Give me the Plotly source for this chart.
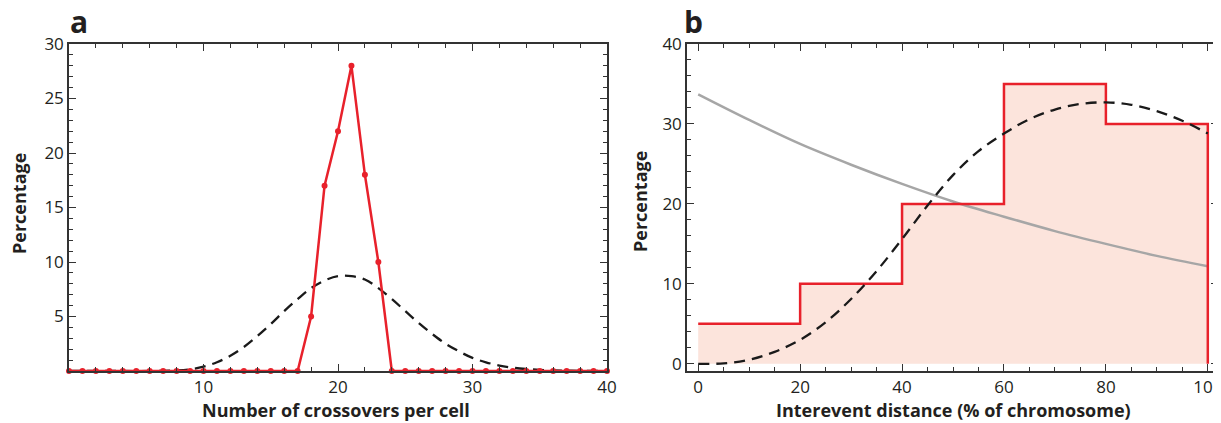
import plotly.graph_objects as go

# ---------- Panel a data ----------
crossovers = list(range(0, 41))
observed_pct = [0]*18 + [5, 17, 22, 28, 18, 10] + [0]*17
expected_x = [0, 2, 4, 6, 8, 9, 10, 11, 12, 13, 14, 15, 16, 17, 18, 19, 20, 21, 22, 23,
              24, 25, 26, 27, 28, 29, 30, 31, 32, 33, 34, 35, 36, 38, 40]
expected_pct = [0, 0, 0, 0, 0.05, 0.15, 0.4, 0.8, 1.4, 2.2, 3.2, 4.3, 5.5, 6.6, 7.6, 8.3, 8.7,
                8.7, 8.4, 7.6, 6.6, 5.5, 4.4, 3.4, 2.5, 1.8, 1.2, 0.8, 0.5, 0.3, 0.18, 0.1,
                0.05, 0.02, 0]

# ---------- Panel b data ----------
bin_edges = [0, 20, 40, 60, 80, 100]
bin_pct = [5, 10, 20, 35, 30]
gray_x = [0, 10, 20, 30, 40, 50, 60, 70, 80, 90, 100]
gray_pct = [33.7, 30.5, 27.5, 24.9, 22.5, 20.3, 18.4, 16.6, 15.0, 13.5, 12.2]
dash_x = [0, 5, 10, 15, 20, 25, 30, 35, 40, 45, 50, 55, 60, 65, 70, 75, 80, 85, 90, 95, 100]
dash_pct = [0, 0.05, 0.5, 1.5, 3.0, 5.2, 8.1, 11.6, 15.6, 19.8, 23.6, 26.6, 28.8, 30.6,
            31.8, 32.5, 32.7, 32.4, 31.6, 30.4, 28.8]

RED = "#e8212b"
FONT = "Open Sans"
TXT = "#231f20"

# step outline from the bins
step_x, step_y = [], []
for i, v in enumerate(bin_pct):
    step_x += [bin_edges[i], bin_edges[i + 1]]
    step_y += [v, v]
fill_x = [bin_edges[0]] + step_x + [bin_edges[-1]]
fill_y = [0] + step_y + [0]
outline_x = step_x + [bin_edges[-1]]
outline_y = step_y + [0]

fig = go.Figure()

# Panel a
fig.add_trace(go.Scatter(x=expected_x, y=expected_pct, mode="lines", line_shape="spline",
                         line=dict(color="#1a1a1a", width=2.3, dash="11px,7px"),
                         xaxis="x", yaxis="y", showlegend=False))
fig.add_trace(go.Scatter(x=crossovers, y=observed_pct, mode="lines+markers",
                         line=dict(color=RED, width=2.5),
                         marker=dict(color=RED, size=6), cliponaxis=False,
                         xaxis="x", yaxis="y", showlegend=False))

# Panel b
fig.add_trace(go.Scatter(x=fill_x, y=fill_y, mode="lines", fill="toself",
                         fillcolor="#fce4dc", line=dict(width=0),
                         xaxis="x2", yaxis="y2", showlegend=False))
fig.add_trace(go.Scatter(x=gray_x, y=gray_pct, mode="lines", line_shape="spline",
                         line=dict(color="#a6a6a6", width=2.5),
                         xaxis="x2", yaxis="y2", showlegend=False))
fig.add_trace(go.Scatter(x=outline_x, y=outline_y, mode="lines",
                         line=dict(color=RED, width=2.5),
                         xaxis="x2", yaxis="y2", showlegend=False))
fig.add_trace(go.Scatter(x=dash_x, y=dash_pct, mode="lines", line_shape="spline",
                         line=dict(color="#1a1a1a", width=2.3, dash="11px,7px"),
                         xaxis="x2", yaxis="y2", showlegend=False))

# page has an 8px body margin: figure is placed at (8, 8) in the window
OFF = 8
W, H = 1221 - OFF, 423 - OFF
def px(x): return (x - OFF) / W
def py(y): return 1 - (y - OFF) / H

axis_common = dict(showline=True, linecolor="#333", linewidth=1.5, mirror="ticks",
                   ticks="inside", ticklen=7, tickwidth=1.3, tickcolor="#333",
                   showgrid=False, zeroline=False, automargin=False,
                   ticklabeloverflow="allow",
                   tickfont=dict(family=FONT, size=17, color=TXT))

fig.update_layout(
    width=W, height=H, margin=dict(l=0, r=0, t=0, b=0),
    paper_bgcolor="white", plot_bgcolor="white",
    xaxis=dict(domain=[px(69), px(607)], range=[0, 40], anchor="y",
               tickvals=[10, 20, 30, 40],
               minor=dict(dtick=2, tick0=0, ticks="inside", ticklen=4, tickcolor="#333"),
               **axis_common),
    yaxis=dict(domain=[py(371), py(44)], range=[0, 30], anchor="x",
               tickvals=[5, 10, 15, 20, 25, 30],
               minor=dict(dtick=1, tick0=0, ticks="inside", ticklen=4, tickcolor="#333"),
               **axis_common),
    xaxis2=dict(domain=[px(687), px(1218)], range=[-2.2, 102], anchor="y2",
                tickvals=[0, 20, 40, 60, 80, 100],
                minor=dict(dtick=5, tick0=0, ticks="inside", ticklen=4, tickcolor="#333"),
                **axis_common),
    yaxis2=dict(domain=[py(371), py(44)], range=[-0.9, 40], anchor="x2",
                tickvals=[0, 10, 20, 30, 40],
                minor=dict(dtick=2, tick0=0, ticks="inside", ticklen=4, tickcolor="#333"),
                **axis_common),
)

title_font = dict(family=FONT, size=18, color=TXT)
ann = [
    dict(text="<b>a</b>", x=px(68), y=py(-1), xanchor="left", yanchor="top",
         font=dict(family=FONT, size=30, color=TXT)),
    dict(text="<b>b</b>", x=px(682), y=py(-1), xanchor="left", yanchor="top",
         font=dict(family=FONT, size=30, color=TXT)),
    dict(text="<b>Number of crossovers per cell</b>", x=px(336), y=py(410),
         xanchor="center", yanchor="middle", font=title_font),
    dict(text="<b>Interevent distance (% of chromosome)</b>", x=px(953), y=py(410),
         xanchor="center", yanchor="middle", font=title_font),
    dict(text="<b>Percentage</b>", x=px(19), y=py(204), textangle=-90,
         xanchor="center", yanchor="middle", font=title_font),
    dict(text="<b>Percentage</b>", x=px(640), y=py(202), textangle=-90,
         xanchor="center", yanchor="middle", font=title_font),
]
for a in ann:
    a.update(xref="paper", yref="paper", showarrow=False)
fig.update_layout(annotations=ann)

fig.write_html("out.html")
